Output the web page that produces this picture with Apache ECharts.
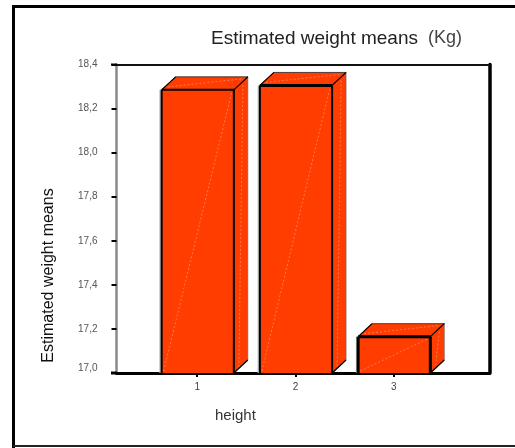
<!DOCTYPE html>
<html>
<head>
<meta charset="utf-8">
<style>html,body{margin:0;padding:0;background:#fff}#c{width:515px;height:448px}</style>
<script src="https://cdn.jsdelivr.net/npm/echarts@6/dist/echarts.min.js"></script>
</head>
<body>
<div id="c"></div>
<script>
const heights = [1, 2, 3];
const means = [18.285, 18.305, 17.165];
const yTicks = [17.0, 17.2, 17.4, 17.6, 17.8, 18.0, 18.2, 18.4];
const titleMain = 'Estimated weight means';
const titleUnit = '(Kg)';
const yName = 'Estimated weight means';
const xName = 'height';

const ORANGE = '#ff3d00';
const DX = 14, DY = 13;
const lineEdge = {stroke:'#000', lineWidth:1.2};
const sheen = {stroke:'rgba(255,170,140,0.55)', lineWidth:1, lineDash:[2,2], fill:null};

function renderBar(params, api) {
  const i = params.dataIndex;
  const top = api.coord([api.value(0), api.value(1)]);
  const base = api.coord([api.value(0), 17]);
  const w = api.size([0.735, 0])[0];
  const l = top[0] - w/2 + 0.5, r = top[0] + w/2 + 0.5, t = top[1], b = base[1];
  const heavy = i === 2 ? 3 : 2;
  const poly = (pts, style) => ({type:'polygon', shape:{points:pts}, style});
  const line = (x1,y1,x2,y2,style) => ({type:'line', shape:{x1,y1,x2,y2}, style});
  return {type:'group', children:[
    line(l-1.5,t,l-1.5,b,{stroke:'#b5b5b5',lineWidth:1.5}),
    poly([[r,t],[r+DX,t-DY],[r+DX,b-DY],[r,b]],{fill:ORANGE,stroke:'#666',lineWidth:0.6}),
    poly([[l,t],[l+DX,t-DY],[r+DX,t-DY],[r,t]],{fill:ORANGE,stroke:'#222',lineWidth:0.8}),
    {type:'rect', shape:{x:l,y:t,width:r-l,height:b-t}, style:{fill:ORANGE}},
    line(l+2,b-2,r-2,t+2,sheen),
    line(l+6,t-3,r+8,t-DY+2,sheen),
    line(r+DX-5,t-DY+8,r+5,b-5,sheen),
    line(l,t,r,t,{stroke:'#000',lineWidth:i===0?2:3}),
    line(l,t,l,b,{stroke:'#000',lineWidth:heavy}),
    line(r,t,r,b,{stroke:'#000',lineWidth:heavy}),
    line(r,t,r+DX,t-DY,lineEdge),
    line(l,t,l+DX,t-DY,lineEdge),
    line(r,b,r+DX,b-DY,lineEdge)
  ]};
}

const chart = echarts.init(document.getElementById('c'), null, {renderer:'canvas'});
chart.setOption({
  animation:false,
  backgroundColor:'#fff',
  title:{
    text:'{m|'+titleMain+'}  {u|'+titleUnit+'}',
    left:206, top:24,
    textStyle:{rich:{
      m:{fontFamily:'Liberation Sans',fontSize:19,fontWeight:'normal',color:'#222'},
      u:{fontFamily:'Liberation Sans',fontSize:18,fontWeight:'normal',color:'#444'}
    }}
  },
  grid:{left:116.5,top:64.5,width:373,height:308.5},
  xAxis:[{
    type:'value', min:0.178, max:3.975, position:'bottom',
    splitLine:{show:false},
    axisLine:{show:true,onZero:false,lineStyle:{color:'#000',width:3}},
    axisTick:{show:true,length:4,inside:false,customValues:heights,lineStyle:{color:'#000',width:2}},
    axisLabel:{customValues:heights,margin:9,fontFamily:'Liberation Sans',fontSize:10,color:'#444',formatter:v=>String(v)}
  },{
    type:'value', min:0.178, max:3.975, position:'top',
    splitLine:{show:false},
    axisLine:{show:true,onZero:false,lineStyle:{color:'#111',width:2}},
    axisTick:{show:false},axisLabel:{show:false}
  }],
  yAxis:[{
    type:'value', min:17, max:18.4, interval:0.2, position:'left',
    splitLine:{show:false},
    axisLine:{show:true,onZero:false,lineStyle:{color:'#8a8a8a',width:2.5}},
    axisTick:{show:true,length:5,lineStyle:{color:'#000',width:2}},
    axisLabel:{margin:19,fontFamily:'Liberation Sans',fontSize:10,color:'#555',
      verticalAlignMinLabel:'bottom',
      formatter:v=>v.toFixed(1).replace('.',',')}
  },{
    type:'value', min:17, max:18.4, interval:0.2, position:'right',
    splitLine:{show:false},
    axisLine:{show:true,onZero:false,lineStyle:{color:'#000',width:3.5}},
    axisTick:{show:false},axisLabel:{show:false}
  }],
  series:[{
    type:'custom', xAxisIndex:0, yAxisIndex:0, clip:false,
    renderItem:renderBar,
    encode:{x:0,y:1},
    data:heights.map((h,i)=>[h,means[i]]),
    silent:true
  }],
  graphic:[
    {type:'line',z:10,shape:{x1:13.5,y1:6.5,x2:515,y2:6.5},style:{stroke:'#000',lineWidth:3}},
    {type:'line',z:10,shape:{x1:13.5,y1:5,x2:13.5,y2:448},style:{stroke:'#000',lineWidth:3}},
    {type:'line',z:10,shape:{x1:13,y1:446,x2:515,y2:446},style:{stroke:'#222',lineWidth:2}},
    {type:'line',z:10,shape:{x1:111,y1:64.5,x2:117,y2:64.5},style:{stroke:'#000',lineWidth:2}},
    {type:'line',z:10,shape:{x1:111,y1:373,x2:117,y2:373},style:{stroke:'#000',lineWidth:3}},
    {type:'text',x:49,y:275.5,rotation:Math.PI/2,
      style:{text:yName,fontFamily:'Liberation Sans',fontSize:16,fill:'#111',align:'center',verticalAlign:'middle'}},
    {type:'text',x:215,y:416,
      style:{text:xName,fontFamily:'Liberation Sans',fontSize:15,fill:'#333',align:'left',verticalAlign:'middle'}}
  ]
});
</script>
</body>
</html>
